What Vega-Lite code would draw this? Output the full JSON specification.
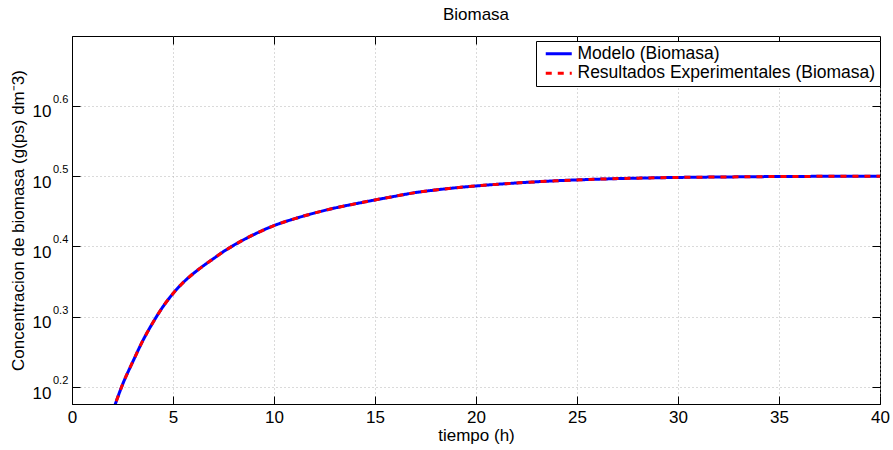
{
  "$schema": "https://vega.github.io/schema/vega-lite/v6.json",
  "width": 808,
  "height": 368,
  "autosize": {"type": "none"},
  "padding": {"left": 72, "top": 36, "right": 13, "bottom": 46},
  "background": "white",
  "config": {
    "font": "Liberation Sans",
    "view": {"stroke": "black", "strokeWidth": 1},
    "axis": {
      "domainColor": "black",
      "tickColor": "black",
      "labelColor": "black",
      "titleColor": "black",
      "labelFont": "Liberation Sans",
      "titleFont": "Liberation Sans",
      "labelFontSize": 17,
      "titleFontSize": 17,
      "titleFontWeight": "normal",
      "gridColor": "#b4b4b4",
      "gridDash": [1, 3],
      "gridOpacity": 1,
      "tickSize": -8
    }
  },
  "title": {
    "text": "Biomasa",
    "fontSize": 17,
    "fontWeight": "normal",
    "font": "Liberation Sans",
    "color": "black",
    "offset": 12
  },
  "datasets": {
    "biomasa": [
      {"t": 2.0, "Modelo (Biomasa)": 1.4585, "Resultados Experimentales (Biomasa)": 1.4585},
      {"t": 2.2, "Modelo (Biomasa)": 1.5155, "Resultados Experimentales (Biomasa)": 1.5155},
      {"t": 2.5, "Modelo (Biomasa)": 1.5981, "Resultados Experimentales (Biomasa)": 1.5981},
      {"t": 3.0, "Modelo (Biomasa)": 1.7200, "Resultados Experimentales (Biomasa)": 1.7200},
      {"t": 3.5, "Modelo (Biomasa)": 1.8440, "Resultados Experimentales (Biomasa)": 1.8440},
      {"t": 4.0, "Modelo (Biomasa)": 1.9566, "Resultados Experimentales (Biomasa)": 1.9566},
      {"t": 4.5, "Modelo (Biomasa)": 2.0617, "Resultados Experimentales (Biomasa)": 2.0617},
      {"t": 5.0, "Modelo (Biomasa)": 2.1528, "Resultados Experimentales (Biomasa)": 2.1528},
      {"t": 5.5, "Modelo (Biomasa)": 2.2315, "Resultados Experimentales (Biomasa)": 2.2315},
      {"t": 6.0, "Modelo (Biomasa)": 2.2977, "Resultados Experimentales (Biomasa)": 2.2977},
      {"t": 6.5, "Modelo (Biomasa)": 2.3572, "Resultados Experimentales (Biomasa)": 2.3572},
      {"t": 7.0, "Modelo (Biomasa)": 2.4132, "Resultados Experimentales (Biomasa)": 2.4132},
      {"t": 7.5, "Modelo (Biomasa)": 2.4699, "Resultados Experimentales (Biomasa)": 2.4699},
      {"t": 8.0, "Modelo (Biomasa)": 2.5206, "Resultados Experimentales (Biomasa)": 2.5206},
      {"t": 8.5, "Modelo (Biomasa)": 2.5674, "Resultados Experimentales (Biomasa)": 2.5674},
      {"t": 9.0, "Modelo (Biomasa)": 2.6109, "Resultados Experimentales (Biomasa)": 2.6109},
      {"t": 10.0, "Modelo (Biomasa)": 2.6890, "Resultados Experimentales (Biomasa)": 2.6890},
      {"t": 11.0, "Modelo (Biomasa)": 2.7490, "Resultados Experimentales (Biomasa)": 2.7490},
      {"t": 12.0, "Modelo (Biomasa)": 2.8015, "Resultados Experimentales (Biomasa)": 2.8015},
      {"t": 13.0, "Modelo (Biomasa)": 2.8477, "Resultados Experimentales (Biomasa)": 2.8477},
      {"t": 14.0, "Modelo (Biomasa)": 2.8868, "Resultados Experimentales (Biomasa)": 2.8868},
      {"t": 15.0, "Modelo (Biomasa)": 2.9242, "Resultados Experimentales (Biomasa)": 2.9242},
      {"t": 16.0, "Modelo (Biomasa)": 2.9602, "Resultados Experimentales (Biomasa)": 2.9602},
      {"t": 17.0, "Modelo (Biomasa)": 2.9957, "Resultados Experimentales (Biomasa)": 2.9957},
      {"t": 18.0, "Modelo (Biomasa)": 3.0215, "Resultados Experimentales (Biomasa)": 3.0215},
      {"t": 19.0, "Modelo (Biomasa)": 3.0431, "Resultados Experimentales (Biomasa)": 3.0431},
      {"t": 20.0, "Modelo (Biomasa)": 3.0614, "Resultados Experimentales (Biomasa)": 3.0614},
      {"t": 22.0, "Modelo (Biomasa)": 3.0911, "Resultados Experimentales (Biomasa)": 3.0911},
      {"t": 24.0, "Modelo (Biomasa)": 3.1139, "Resultados Experimentales (Biomasa)": 3.1139},
      {"t": 26.0, "Modelo (Biomasa)": 3.1297, "Resultados Experimentales (Biomasa)": 3.1297},
      {"t": 28.0, "Modelo (Biomasa)": 3.1405, "Resultados Experimentales (Biomasa)": 3.1405},
      {"t": 30.0, "Modelo (Biomasa)": 3.1477, "Resultados Experimentales (Biomasa)": 3.1477},
      {"t": 32.0, "Modelo (Biomasa)": 3.1521, "Resultados Experimentales (Biomasa)": 3.1521},
      {"t": 35.0, "Modelo (Biomasa)": 3.1572, "Resultados Experimentales (Biomasa)": 3.1572},
      {"t": 40.0, "Modelo (Biomasa)": 3.1603, "Resultados Experimentales (Biomasa)": 3.1603}
    ],
    "exponentes": [
      {"e": "0.2", "v": 1.5849},
      {"e": "0.3", "v": 1.9953},
      {"e": "0.4", "v": 2.5119},
      {"e": "0.5", "v": 3.1623},
      {"e": "0.6", "v": 3.9811}
    ]
  },
  "resolve": {"axis": {"x": "independent", "y": "independent"}},
  "layer": [
    {
      "data": {"name": "biomasa"},
      "transform": [
        {"fold": ["Modelo (Biomasa)", "Resultados Experimentales (Biomasa)"], "as": ["serie", "X"]}
      ],
      "mark": {"type": "line", "strokeWidth": 3, "clip": true, "interpolate": "monotone"},
      "encoding": {
        "x": {
          "field": "t",
          "type": "quantitative",
          "scale": {"domain": [0, 40], "nice": false, "zero": false},
          "axis": {
            "values": [0, 5, 10, 15, 20, 25, 30, 35, 40],
            "title": "tiempo (h)",
            "labelPadding": 13,
            "titlePadding": 2,
            "grid": true,
            "labelFlush": false
          }
        },
        "y": {
          "field": "X",
          "type": "quantitative",
          "scale": {"type": "log", "domain": [1.5, 5], "nice": false},
          "axis": {
            "values": [1.5849, 1.9953, 2.5119, 3.1623, 3.9811],
            "labelExpr": "'10'",
            "labelPadding": 29,
            "labelOffset": 6,
            "title": "Concentracion de biomasa (g(ps) dm⁻3)",
            "titlePadding": 5,
            "grid": true
          }
        },
        "color": {
          "field": "serie",
          "type": "nominal",
          "scale": {
            "domain": ["Modelo (Biomasa)", "Resultados Experimentales (Biomasa)"],
            "range": ["#0000ff", "#ff0000"]
          },
          "legend": {
            "title": null,
            "orient": "none",
            "legendX": 464,
            "legendY": 5,
            "strokeColor": "black",
            "fillColor": "white",
            "padding": 4,
            "symbolType": "M-2.6,0H2.6",
            "symbolSize": 100,
            "symbolStrokeWidth": 3,
            "labelFontSize": 17.5,
            "labelFont": "Liberation Sans",
            "labelColor": "black",
            "labelLimit": 0,
            "labelOffset": 10,
            "rowPadding": 0.5,
            "symbolOffset": 10
          }
        },
        "strokeDash": {
          "field": "serie",
          "type": "nominal",
          "scale": {
            "domain": ["Modelo (Biomasa)", "Resultados Experimentales (Biomasa)"],
            "range": [[1, 0], [6, 6]]
          },
          "legend": null
        },
        "order": {"field": "serie", "sort": "ascending"}
      }
    },
    {
      "data": {"name": "biomasa"},
      "mark": {"type": "point", "opacity": 0},
      "encoding": {
        "x": {
          "field": "t",
          "type": "quantitative",
          "axis": {"orient": "top", "labels": false, "title": null, "grid": false, "domain": false, "values": [0, 5, 10, 15, 20, 25, 30, 35, 40]}
        },
        "y": {
          "field": "Modelo (Biomasa)",
          "type": "quantitative",
          "axis": {"orient": "right", "labels": false, "title": null, "grid": false, "domain": false, "values": [1.5849, 1.9953, 2.5119, 3.1623, 3.9811]}
        }
      }
    },
    {
      "data": {"name": "exponentes"},
      "mark": {
        "type": "text",
        "align": "left",
        "baseline": "alphabetic",
        "dx": -19,
        "dy": -3,
        "fontSize": 11,
        "font": "Liberation Sans",
        "color": "black"
      },
      "encoding": {
        "x": {"datum": 0, "type": "quantitative", "axis": null},
        "y": {"field": "v", "type": "quantitative", "axis": null},
        "text": {"field": "e"}
      }
    }
  ]
}
